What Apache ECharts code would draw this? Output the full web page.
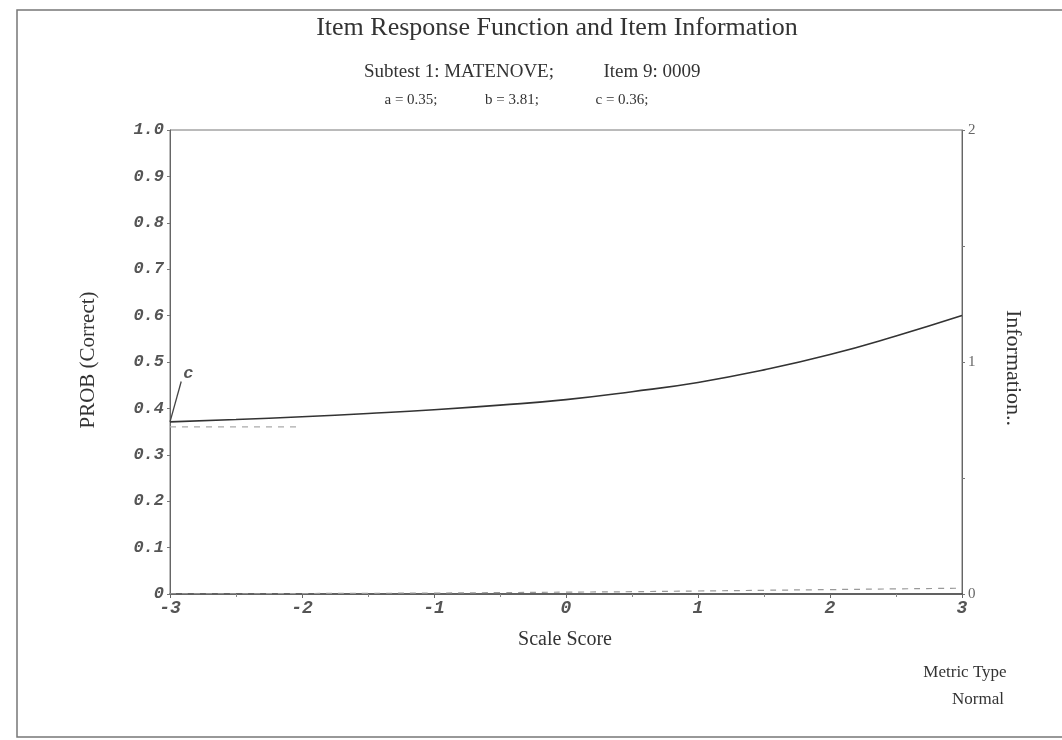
<!DOCTYPE html>
<html>
<head>
<meta charset="utf-8">
<script src="https://cdn.jsdelivr.net/npm/echarts@6/dist/echarts.min.js"></script>
<style>html,body{margin:0;padding:0;background:#fff}#c{width:1062px;height:740px}</style>
</head>
<body>
<div id="c"></div>
<script>
// ---- data ----
const theta = [-3, -2.5, -2, -1.5, -1, -0.5, 0, 0.5, 1, 1.5, 2, 2.5, 3];
const probCorrect = [0.371, 0.376, 0.382, 0.389, 0.397, 0.407, 0.419, 0.436, 0.456, 0.483, 0.516, 0.556, 0.600];
const information = [0.001, 0.001, 0.002, 0.003, 0.004, 0.006, 0.008, 0.010, 0.013, 0.016, 0.019, 0.022, 0.025];
const cLine = [[-3, 0.36], [-2, 0.36]];
const cPointer = [[-3, 0.371], [-2.915, 0.458]];
const probTicks = ['0', '0.1', '0.2', '0.3', '0.4', '0.5', '0.6', '0.7', '0.8', '0.9', '1.0'];
const infoTicks = ['0', '1', '2'];

const serif = '"Liberation Serif", "DejaVu Serif", serif';
const mono = '"Liberation Mono", "DejaVu Sans Mono", monospace';
const chart = echarts.init(document.getElementById('c'), null, {renderer: 'canvas'});

function txt(x, y, s, size, extra) {
  return {
    type: 'text', x: x, y: y,
    style: Object.assign({text: s, font: size + 'px ' + serif, fill: '#333', textAlign: 'center', textVerticalAlign: 'middle'}, extra || {})
  };
}

chart.setOption({
  backgroundColor: '#fff',
  animation: false,
  grid: {left: 170, right: 100, top: 130, bottom: 146, show: true, borderColor: '#777', borderWidth: 1},
  xAxis: {
    type: 'value', min: -3, max: 3, interval: 1,
    axisLine: {onZero: false, lineStyle: {color: '#444', width: 1.5}},
    axisTick: {show: true, length: 4, lineStyle: {color: '#666'}},
    minorTick: {show: true, splitNumber: 2, length: 3, lineStyle: {color: '#888'}},
    splitLine: {show: false},
    axisLabel: {fontFamily: mono, fontStyle: 'italic', fontWeight: 'bold', fontSize: 18, color: '#555', margin: 5}
  },
  yAxis: [{
    type: 'value', min: 0, max: 1, interval: 0.1,
    axisLine: {show: true, onZero: false, lineStyle: {color: '#666'}},
    axisTick: {show: true, length: 3, lineStyle: {color: '#777'}},
    splitLine: {show: false},
    axisLabel: {fontFamily: mono, fontStyle: 'italic', fontWeight: 'bold', fontSize: 17, color: '#555', margin: 6,
      formatter: function (v) { return probTicks[Math.round(v * 10)]; }}
  }, {
    type: 'value', min: 0, max: 2, interval: 0.5, position: 'right',
    axisLine: {show: true, onZero: false, lineStyle: {color: '#666'}},
    axisTick: {show: true, length: 3, lineStyle: {color: '#777'}},
    splitLine: {show: false},
    axisLabel: {fontFamily: serif, fontSize: 15, color: '#666', margin: 6,
      formatter: function (v) { return (Math.abs(v - Math.round(v)) < 1e-9) ? infoTicks[Math.round(v)] : ''; }}
  }],
  series: [{
    type: 'line', name: 'IRF', yAxisIndex: 0, symbol: 'none', smooth: true,
    data: theta.map((t, i) => [t, probCorrect[i]]),
    lineStyle: {color: '#333', width: 1.6}
  }, {
    type: 'line', name: 'Information', yAxisIndex: 1, symbol: 'none', smooth: true,
    data: theta.map((t, i) => [t, information[i]]),
    lineStyle: {color: '#999', width: 1.2, type: [6, 6]}
  }, {
    type: 'line', name: 'c', yAxisIndex: 0, symbol: 'none',
    data: cLine,
    lineStyle: {color: '#aaa', width: 1.2, type: [6, 6]}
  }, {
    type: 'line', name: 'cptr', yAxisIndex: 0, symbol: 'none',
    data: cPointer,
    lineStyle: {color: '#444', width: 1.3},
    endLabel: {show: true, formatter: 'c', fontFamily: mono, fontStyle: 'italic', fontWeight: 'bold', fontSize: 17, color: '#555', offset: [-6, -8]}
  }],
  graphic: [
    {type: 'rect', shape: {x: 17, y: 10, width: 1060, height: 727}, style: {fill: 'none', stroke: '#777', lineWidth: 1.5}, silent: true},
    txt(557, 28, 'Item Response Function and Item Information', 26),
    txt(459, 72, 'Subtest 1: MATENOVE;', 19),
    txt(652, 72, 'Item 9: 0009', 19),
    txt(411, 100, 'a = 0.35;', 15),
    txt(512, 100, 'b = 3.81;', 15),
    txt(622, 100, 'c = 0.36;', 15),
    txt(565, 640, 'Scale Score', 20),
    {type: 'text', x: 88, y: 360, rotation: Math.PI / 2,
      style: {text: 'PROB (Correct)', font: '21px ' + serif, fill: '#333', textAlign: 'center', textVerticalAlign: 'middle'}},
    {type: 'text', x: 1013, y: 368, rotation: -Math.PI / 2,
      style: {text: 'Information..', font: '22px ' + serif, fill: '#333', textAlign: 'center', textVerticalAlign: 'middle'}},
    txt(965, 673, 'Metric Type', 17),
    txt(978, 700, 'Normal', 17)
  ]
});
</script>
</body>
</html>
